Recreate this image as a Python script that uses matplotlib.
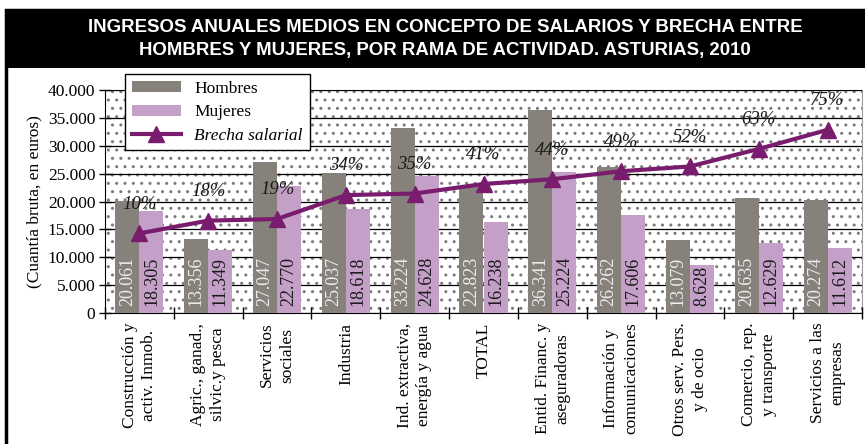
import numpy as np
import matplotlib.pyplot as plt
from matplotlib.patches import Rectangle
from matplotlib.ticker import FuncFormatter

categorias = ["Construcción y\nactiv. Inmob.", "Agric., ganad.,\nsilvic.y pesca",
              "Servicios\nsociales", "Industria", "Ind. extractiva,\nenergía y agua",
              "TOTAL", "Entid. Financ. y\naseguradoras", "Información y\ncomunicaciones",
              "Otros serv. Pers.\ny de ocio", "Comercio, rep.\ny transporte",
              "Servicios a las\nempresas"]
hombres = [20061, 13356, 27047, 25037, 33224, 22823, 36341, 26262, 13079, 20635, 20274]
mujeres = [18305, 11349, 22770, 18618, 24628, 16238, 25224, 17606, 8628, 12629, 11612]
brecha = [10, 18, 19, 34, 35, 41, 44, 49, 52, 63, 75]

c_h = "#86827b"
c_m = "#c4a0c8"
c_line = "#7a1c6e"
serif = "Liberation Serif"

W, H = 865, 444
fig = plt.figure(figsize=(W / 100, H / 100), dpi=100)

# marco y banda del titulo
fig.patches.append(Rectangle((6 / W, -0.01), 1.0, 1 - 10 / H + 0.01, transform=fig.transFigure,
                             facecolor="white", edgecolor="black", lw=2.5, zorder=-5))
fig.patches.append(Rectangle((6 / W, 1 - 68 / H), 1.0, 58 / H, transform=fig.transFigure,
                             facecolor="black", edgecolor="black", lw=0, zorder=-4))
fig.text(445 / W, 1 - 27 / H, "INGRESOS ANUALES MEDIOS EN CONCEPTO DE SALARIOS Y BRECHA ENTRE",
         color="white", fontsize=13.4, fontweight="bold", family="Liberation Sans",
         ha="center", va="center")
fig.text(445 / W, 1 - 50 / H, "HOMBRES Y MUJERES, POR RAMA DE ACTIVIDAD. ASTURIAS, 2010",
         color="white", fontsize=13.4, fontweight="bold", family="Liberation Sans",
         ha="center", va="center")

ax = fig.add_axes([105 / W, 1 - 313 / H, (862 - 105) / W, (313 - 90) / H])
ax.set_facecolor("white")
ax.add_patch(Rectangle((0, 0), 1, 1, transform=ax.transAxes, facecolor="white",
                       edgecolor="#7a7a7a", hatch="..", lw=0, zorder=0))

x = np.arange(len(categorias))
bw = 0.35
ax.bar(x - bw / 2, hombres, bw, color=c_h, label="Hombres", zorder=3)
ax.bar(x + bw / 2, mujeres, bw, color=c_m, label="Mujeres", zorder=3)

for i in range(len(x)):
    ax.text(x[i] - bw / 2, 1300, f"{hombres[i]:,}".replace(",", "."), rotation=90,
            ha="center", va="bottom", color="#eeeeee", fontsize=13, family=serif, zorder=4)
    ax.text(x[i] + bw / 2, 1300, f"{mujeres[i]:,}".replace(",", "."), rotation=90,
            ha="center", va="bottom", color="#1a1a1a", fontsize=13, family=serif, zorder=4)

ax.set_xlim(-0.5, len(x) - 0.5)
ax.set_ylim(0, 40000)
ax.set_yticks(np.arange(0, 40001, 5000))
ax.yaxis.set_major_formatter(FuncFormatter(lambda v, p: f"{int(v):,}".replace(",", ".")))
ax.yaxis.grid(True, color="black", lw=0.9, zorder=1)
ax.set_axisbelow(False)
for g in ax.get_ygridlines():
    g.set_zorder(1)

ax.set_xticks(np.arange(-0.5, len(x), 1.0))
ax.set_xticklabels([])
ax.set_xticks(x, minor=True)
ax.set_xticklabels(categorias, minor=True, rotation=90, fontsize=12.5, family=serif,
                   ha="center", va="top", linespacing=1.3)
ax.tick_params(axis="x", which="major", direction="inout", length=9, width=1)
ax.tick_params(axis="x", which="minor", length=0, pad=7)
ax.tick_params(axis="y", direction="inout", length=8, width=1, labelsize=12.5, pad=3)
for lab in ax.get_yticklabels():
    lab.set_family(serif)

ax.spines["left"].set_color("black")
ax.spines["bottom"].set_color("black")
ax.spines["top"].set_color("#9a9a9a")
ax.spines["right"].set_color("#9a9a9a")
ax.set_ylabel("(Cuantía bruta, en euros)", fontsize=12.5, family=serif, labelpad=4)

ax2 = ax.twinx()
ax2.set_ylim(-0.4, 1.0)
ln, = ax2.plot(x, np.array(brecha) / 100, color=c_line, lw=3, marker="^", markersize=12,
               label="Brecha salarial", zorder=5)
for i, p in enumerate(brecha):
    ax2.annotate(f"{p}%", (x[i], p / 100), xytext=(0, 21), textcoords="offset points",
                 ha="center", va="center", fontsize=13.5, style="italic", family=serif,
                 color="#1a1a1a")
ax2.set_yticks([])
for s in ax2.spines.values():
    s.set_visible(False)

handles = ax.get_legend_handles_labels()[0] + [ln]
leg = fig.legend(handles, ["Hombres", "Mujeres", "Brecha salarial"], loc="upper left",
                 bbox_to_anchor=(125 / W, 1 - 74 / H), borderaxespad=0, fancybox=False,
                 framealpha=1, edgecolor="black", handlelength=2.8, handleheight=0.6,
                 labelspacing=0.42, prop={"family": serif, "size": 12.5})
leg.get_frame().set_linewidth(1.0)
leg.get_texts()[2].set_style("italic")

fig.savefig("out.png", dpi=100)
